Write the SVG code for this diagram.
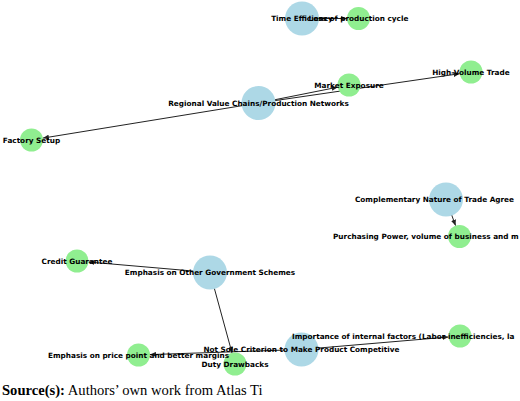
<svg xmlns="http://www.w3.org/2000/svg" width="520" height="401" viewBox="0 0 520 401">
<style>
.blue{fill:#ADD8E6}
.green{fill:#90EE90}
.edge{stroke:#222;stroke-width:1;fill:none}
.lbl{font-family:"DejaVu Sans",sans-serif;font-weight:bold;font-size:7.3px;fill:#000;text-anchor:middle;dominant-baseline:central}
.lbs{font-family:"DejaVu Sans",sans-serif;font-weight:bold;font-size:7.3px;fill:#000;text-anchor:start;dominant-baseline:central}
.cap{font-family:"Liberation Serif",serif;font-size:14.6px;fill:#000}
</style>
<defs>
<marker id="arr" markerUnits="userSpaceOnUse" markerWidth="6" markerHeight="5" refX="6" refY="2.5" orient="auto">
<path d="M0,0 L6,2.5 L0,5 Z" fill="#222"/>
</marker>
</defs>
<rect width="520" height="401" fill="#fff"/>
<g id="connectors">
<line class="edge" x1="302" y1="18.5" x2="347" y2="18.5" marker-end="url(#arr)"/>
<line class="edge" x1="258.5" y1="103" x2="337.7" y2="87.2" marker-end="url(#arr)"/>
<line class="edge" x1="258.5" y1="103" x2="459.6" y2="73.7" marker-end="url(#arr)"/>
<line class="edge" x1="258.5" y1="103" x2="42.9" y2="138.1" marker-end="url(#arr)"/>
<line class="edge" x1="446" y1="199.5" x2="455.6" y2="225.7" marker-end="url(#arr)"/>
<line class="edge" x1="210" y1="272.5" x2="88.5" y2="262" marker-end="url(#arr)"/>
<line class="edge" x1="210" y1="272.5" x2="232" y2="352.9" marker-end="url(#arr)"/>
<line class="edge" x1="301.5" y1="349.5" x2="150" y2="354.6" marker-end="url(#arr)"/>
<line class="edge" x1="301.5" y1="349.5" x2="448.5" y2="337" marker-end="url(#arr)"/>
</g>
<g id="n-time"><circle class="blue" cx="302" cy="18.5" r="17"/></g>
<g id="n-loss"><circle class="green" cx="358.5" cy="18.5" r="11.5"/></g>
<g id="n-regional"><circle class="blue" cx="258.5" cy="103" r="17"/></g>
<g id="n-market"><circle class="green" cx="349" cy="85" r="11.5"/></g>
<g id="n-highvol"><circle class="green" cx="471" cy="72" r="11.5"/></g>
<g id="n-factory"><circle class="green" cx="31.5" cy="140" r="11.5"/></g>
<g id="n-compl"><circle class="blue" cx="446" cy="199.5" r="17"/></g>
<g id="n-purch"><circle class="green" cx="459.5" cy="236.5" r="11.5"/></g>
<g id="n-credit"><circle class="green" cx="77" cy="261" r="11.5"/></g>
<g id="n-emphgov"><circle class="blue" cx="210" cy="272.5" r="17"/></g>
<g id="n-notsole"><circle class="blue" cx="301.5" cy="349.5" r="17"/></g>
<g id="n-internal"><circle class="green" cx="460" cy="336" r="11.5"/></g>
<g id="n-price"><circle class="green" cx="138.5" cy="355" r="11.5"/></g>
<g id="n-duty"><circle class="green" cx="235" cy="364" r="11.5"/></g>
<g id="labels">
<text class="lbl" x="302" y="18.5">Time Efficiency</text>
<text class="lbl" x="358.5" y="18.5">Loss of production cycle</text>
<text class="lbl" x="258.5" y="103">Regional Value Chains/Production Networks</text>
<text class="lbl" x="349" y="85">Market Exposure</text>
<text class="lbl" x="471" y="72">High-Volume Trade</text>
<text class="lbl" x="31.5" y="140">Factory Setup</text>
<text class="lbs" x="355" y="199.5">Complementary Nature of Trade Agree</text>
<text class="lbs" x="333" y="236.5">Purchasing Power, volume of business and m</text>
<text class="lbl" x="77" y="261">Credit Guarantee</text>
<text class="lbl" x="210" y="272.5">Emphasis on Other Government Schemes</text>
<text class="lbl" x="301.5" y="349.5">Not Sole Criterion to Make Product Competitive</text>
<text class="lbs" x="292" y="336">Importance of internal factors (Labor inefficiencies, la</text>
<text class="lbl" x="138.5" y="355">Emphasis on price point and better margins</text>
<text class="lbl" x="235" y="364">Duty Drawbacks</text>
</g>
<text class="cap" x="2" y="395"><tspan font-weight="bold">Source(s):</tspan> Authors’ own work from Atlas Ti</text>
</svg>
